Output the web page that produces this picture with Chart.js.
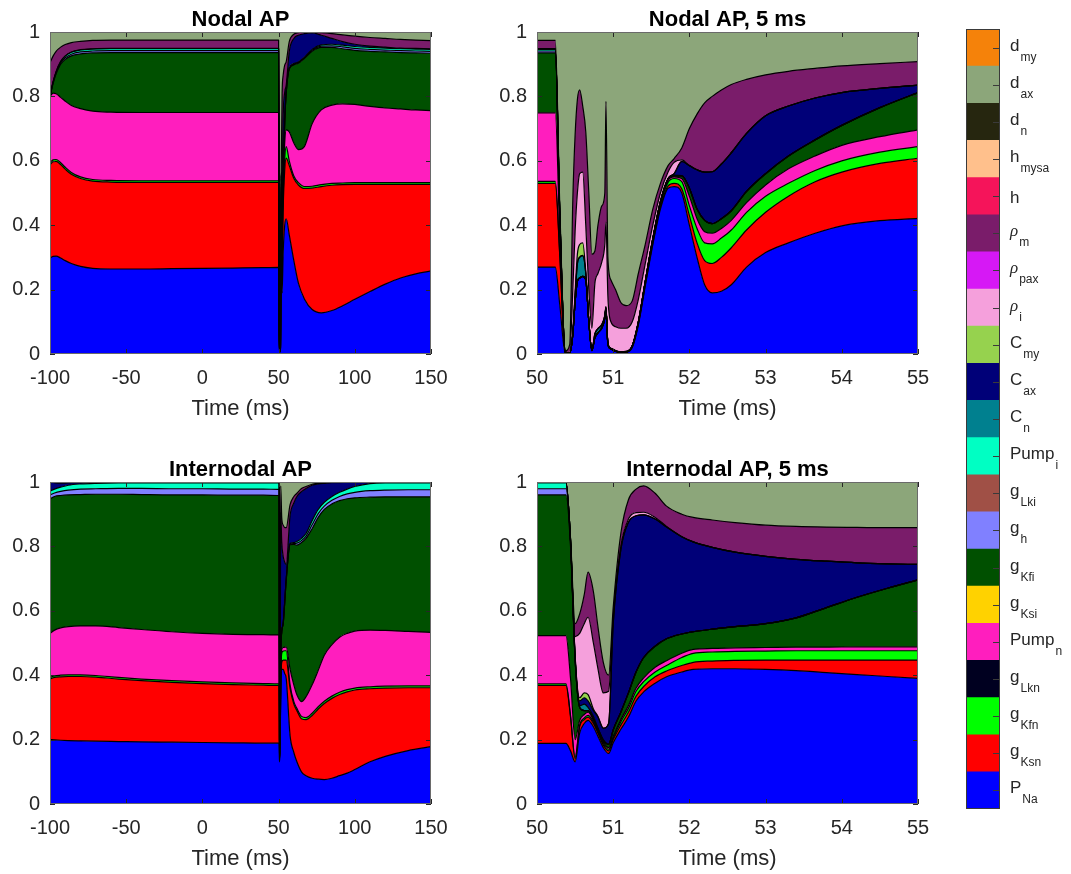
<!DOCTYPE html>
<html>
<head>
<meta charset="utf-8">
<script src="https://cdn.jsdelivr.net/npm/chart.js@4.4.0/dist/chart.umd.min.js"></script>
<style>
  body { margin: 0; background: #fff; width: 1071px; height: 874px; overflow: hidden; position: relative; }
  canvas { position: absolute; }
</style>
</head>
<body>
<canvas id="nodal" width="460" height="424" style="left:0;top:0"></canvas>
<canvas id="nodal5" width="460" height="424" style="left:490px;top:0"></canvas>
<canvas id="inter" width="460" height="424" style="left:0;top:450px"></canvas>
<canvas id="inter5" width="460" height="424" style="left:490px;top:450px"></canvas>
<canvas id="colorbar" width="131" height="874" style="left:940px;top:0"></canvas>
<script>
// legend, top to bottom
const legendKeys = ["d_my", "d_ax", "d_n", "h_mysa", "h", "rho_m", "rho_pax", "rho_i", "C_my", "C_ax", "C_n",
  "Pump_i", "g_Lki", "g_h", "g_Kfi", "g_Ksi", "Pump_n", "g_Lkn", "g_Kfn", "g_Ksn", "P_Na"];
const legendMain = ["d", "d", "d", "h", "h", "ρ", "ρ", "ρ", "C", "C", "C",
  "Pump", "g", "g", "g", "g", "Pump", "g", "g", "g", "P"];
const legendSub = ["my", "ax", "n", "mysa", "", "m", "pax", "i", "my", "ax", "n",
  "i", "Lki", "h", "Kfi", "Ksi", "n", "Lkn", "Kfn", "Ksn", "Na"];
const legendColors = ["#f5820a", "#8ca67a", "#26260f", "#ffc08c", "#f5145a", "#7a1c6a", "#d618f5", "#f5a0dc",
  "#96d24e", "#000078", "#00808f", "#00ffc3", "#a05046", "#8080ff", "#005000", "#ffd200", "#ff1ebe",
  "#000020", "#00ff00", "#ff0000", "#0000ff"];

// Nodal AP (-100..150 ms)
const nodalT = [-100, -98, -96, -93, -90, -86, -80, -72, -60, -40, -20, 0, 20, 40, 50, 50.3, 50.4, 51.2, 51.8, 52.3,
  53, 54, 55, 57, 60, 63, 67, 72, 78, 85, 92, 100, 110, 120, 130, 140, 150];
const nodalPNa = [.298, .303, .304, .298, .290, .281, .272, .266, .264, .264, .265, .266, .267, .268, .269, .200, .004, .010, .520, .190,
  .315, .400, .420, .370, .290, .220, .170, .138, .128, .135, .150, .170, .194, .217, .236, .249, .258];
const nodalGKsn = [.290, .294, .294, .290, .284, .277, .273, .271, .270, .269, .268, .267, .266, .265, .264, .180, .001, .002, .010, .091,
  .135, .170, .188, .215, .255, .305, .344, .377, .392, .389, .376, .357, .333, .310, .291, .278, .269];
const nodalGKfn = [.006, .006, .006, .006, .006, .006, .005, .005, .005, .005, .005, .005, .005, .005, .005, .005, .001, .001, .015, .061,
  .040, .035, .036, .015, .008, .007, .006, .006, .006, .006, .005, .005, .005, .005, .005, .005, .005];
const nodalPumpn = [.206, .207, .204, .203, .205, .208, .212, .212, .212, .212, .212, .212, .212, .212, .212, .085, .001, .001, .005, .033,
  .045, .050, .052, .090, .102, .103, .125, .194, .232, .243, .246, .243, .237, .232, .229, .226, .224];
const nodalGKfi = [0, .030, .062, .103, .130, .154, .170, .181, .185, .186, .186, .186, .186, .186, .186, .090, .001, .001, .003, .030,
  .030, .065, .116, .195, .243, .268, .273, .225, .194, .179, .171, .168, .171, .174, .175, .177, .178];
const nodalGh = [0, .002, .003, .004, .005, .005, .006, .006, .006, .006, .006, .006, .006, .006, .006, .005, 0, 0, .002, .001,
  .001, .001, .001, .002, .002, .002, .002, .003, .004, .005, .006, .006, .006, .006, .006, .006, .006];
const nodalPumpi = [0, .002, .003, .004, .005, .006, .006, .006, .006, .006, .006, .006, .006, .006, .006, .005, 0, 0, .001, .001,
  .001, .001, .001, .002, .002, .002, .002, .003, .004, .005, .005, .006, .006, .006, .006, .006, .006];
const nodalCax = [0, .001, .001, .001, .001, .001, .001, .001, .001, .001, .001, .001, .001, .001, .001, 0, 0, 0, .002, .159,
  .178, .091, .021, .051, .078, .083, .073, .051, .030, .018, .011, .007, .004, .003, .002, .002, .002];
const nodalRhom = [.105, .080, .063, .044, .035, .029, .026, .026, .026, .026, .026, .026, .026, .026, .026, .010, .002, .135, .052, .244,
  .121, .084, .073, .030, .013, .008, .005, .003, .008, .015, .021, .025, .027, .027, .027, .026, .025];
const nodalDax = [.095, .075, .060, .047, .039, .033, .029, .026, .025, .025, .025, .025, .025, .025, .025, .420, .990, .850, .390, .190,
  .134, .103, .092, .030, .007, .002, 0, 0, .002, .005, .009, .013, .017, .020, .023, .025, .027];

// Nodal AP, 5 ms
const nodal5T = [50, 50.24, 50.3, 50.37, 50.43, 50.47, 50.5, 50.53, 50.56, 50.6, 50.64, 50.68, 50.72, 50.76, 50.8, 50.85, 50.89, 50.905, 50.93, 50.97,
  51.03, 51.1, 51.17, 51.25, 51.33, 51.42, 51.52, 51.62, 51.72, 51.8, 51.9, 52, 52.1, 52.2, 52.3, 52.42, 52.55, 52.75, 53, 53.3,
  53.65, 54, 54.5, 55];
const nodal5PNa = [.270, .270, .150, .003, .002, .060, .160, .225, .235, .240, .230, .100, .010, .050, .065, .080, .110, .140, .030, .015,
  .008, .004, .005, .020, .090, .210, .340, .450, .515, .520, .500, .400, .300, .215, .190, .195, .215, .270, .315, .345,
  .375, .398, .414, .421];
const nodal5GKsn = [.260, .260, .150, .001, 0, .001, .001, .001, .001, .001, .001, .001, .001, .001, .001, .001, .001, .001, .001, .001,
  .001, .001, .001, .002, .003, .004, .005, .006, .007, .010, .013, .030, .045, .075, .091, .105, .115, .115, .125, .145,
  .160, .167, .178, .187];
const nodal5GKfn = [.006, .006, .005, 0, 0, 0, 0, 0, 0, 0, 0, 0, 0, 0, 0, 0, 0, 0, 0, 0,
  0, 0, 0, .002, .004, .006, .007, .009, .011, .015, .022, .030, .045, .055, .061, .060, .055, .055, .050, .040,
  .035, .035, .035, .036];
const nodal5Pumpn = [.213, .213, .055, .001, 0, 0, 0, 0, 0, 0, 0, 0, 0, 0, 0, 0, 0, 0, 0, 0,
  0, 0, 0, .001, .002, .003, .004, .005, .006, .005, .010, .030, .030, .035, .033, .030, .030, .030, .035, .045,
  .045, .048, .048, .052];
const nodal5GKfi = [.186, .186, .060, .001, 0, 0, 0, 0, 0, 0, 0, 0, 0, 0, 0, 0, 0, 0, 0, 0,
  0, 0, 0, 0, 0, .001, .002, .003, .004, .003, .007, .025, .030, .035, .030, .030, .030, .035, .035, .040,
  .050, .062, .090, .116];
const nodal5Gh = [.006, .006, .005, 0, 0, 0, 0, 0, 0, 0, 0, 0, 0, 0, 0, 0, 0, 0, 0, 0,
  0, 0, 0, 0, 0, 0, 0, 0, 0, .001, .001, 0, 0, 0, 0, 0, 0, 0, 0, 0,
  0, 0, 0, 0];
const nodal5Pumpi = [.006, .006, .005, 0, 0, 0, 0, 0, 0, 0, 0, 0, 0, 0, 0, 0, 0, 0, 0, 0,
  0, 0, 0, 0, 0, 0, 0, 0, 0, .001, .001, 0, 0, 0, 0, 0, 0, 0, 0, 0,
  0, 0, 0, 0];
const nodal5Cn = [0, 0, 0, 0, 0, .004, .019, .054, .064, .064, .019, .001, .001, .011, .012, .009, .007, .004, .002, .001,
  .001, .001, .001, 0, 0, 0, 0, 0, 0, 0, 0, 0, 0, 0, 0, 0, 0, 0, 0, 0,
  0, 0, 0, 0];
const nodal5Cax = [.001, .001, 0, 0, 0, 0, 0, .001, .001, .001, .001, .001, .001, .001, .001, .001, .001, .001, .001, .001,
  .001, .001, .001, .001, .001, .001, .001, .001, .002, .005, .044, .070, .122, .150, .161, .170, .180, .180, .180, .155,
  .130, .102, .060, .023];
const nodal5Cmy = [0, 0, 0, 0, 0, 0, .010, .029, .039, .039, .004, 0, 0, 0, 0, .001, .001, .001, 0, 0,
  0, 0, 0, 0, 0, 0, 0, 0, 0, 0, 0, 0, 0, 0, 0, 0, 0, 0, 0, 0,
  0, 0, 0, 0];
const nodal5Rhoi = [0, 0, 0, 0, .002, .135, .190, .190, .220, .220, .145, .097, .067, .157, .171, .193, .220, .263, .146, .082,
  .074, .073, .072, .074, .070, .055, .041, .026, .020, .035, .005, 0, 0, 0, 0, 0, 0, 0, 0, 0,
  0, 0, 0, 0];
const nodal5Rhom = [.026, .026, .020, .004, .026, .280, .300, .290, .260, .205, .290, .300, .230, .100, .150, .175, .160, .375, .120, .130,
  .115, .080, .070, .065, .080, .060, .050, .030, .020, .012, .037, .115, .173, .215, .234, .230, .212, .168, .127, .108,
  .092, .083, .077, .073];
const nodal5Dax = [.026, .026, .550, .990, .970, .520, .320, .210, .180, .230, .310, .500, .690, .680, .600, .540, .500, .215, .700, .770,
  .800, .840, .850, .835, .750, .660, .550, .470, .415, .393, .360, .300, .255, .220, .200, .180, .163, .147, .133, .122,
  .113, .105, .098, .092];

// Internodal AP (-100..150 ms)
const interT = [-100, -97, -93, -88, -80, -70, -55, -40, -20, 0, 20, 40, 50, 50.4, 50.5, 50.94, 51.4, 52.05, 53, 54,
  55, 57.5, 60, 62, 65, 68, 72, 76, 80, 85, 90, 95, 100, 110, 120, 135, 150];
const interPNa = [.200, .199, .198, .197, .196, .195, .194, .193, .192, .191, .190, .189, .189, .188, .131, .157, .348, .418, .418, .405,
  .390, .214, .160, .131, .100, .088, .080, .077, .076, .080, .088, .096, .107, .131, .148, .166, .178];
const interGKsn = [.188, .194, .197, .199, .200, .199, .194, .190, .186, .183, .181, .180, .179, .180, .009, .008, .017, .022, .029, .042,
  .057, .146, .150, .159, .165, .174, .195, .218, .236, .248, .252, .252, .247, .227, .212, .195, .183];
const interGKfn = [.005, .005, .005, .005, .005, .005, .005, .005, .005, .005, .005, .005, .005, .005, .005, .005, .015, .028, .028, .029,
  .029, .010, .008, .007, .007, .006, .007, .007, .007, .007, .007, .007, .006, .006, .006, .006, .006];
const interPumpn = [.137, .142, .147, .150, .152, .154, .155, .154, .152, .151, .151, .152, .152, .150, .055, .005, .012, .012, .011, .011,
  .012, .050, .052, .042, .046, .065, .088, .113, .143, .160, .171, .175, .177, .176, .173, .169, .166];
const interGKfi = [.418, .415, .411, .409, .408, .409, .414, .419, .425, .430, .432, .433, .433, .435, .250, .010, .063, .055, .074, .139,
  .208, .385, .436, .465, .494, .492, .485, .475, .453, .437, .424, .418, .414, .413, .415, .418, .421];
const interGh = [.012, .011, .013, .015, .017, .017, .018, .019, .019, .019, .019, .019, .019, .019, .001, 0, 0, 0, 0, 0,
  .001, .002, .003, .006, .006, .007, .012, .012, .010, .011, .013, .015, .017, .020, .021, .022, .022];
const interPumpi = [.012, .012, .013, .015, .016, .017, .017, .017, .018, .018, .019, .019, .020, .020, .001, 0, 0, 0, 0, 0,
  .001, .002, .003, .005, .007, .008, .013, .013, .012, .012, .013, .015, .018, .022, .022, .021, .021];
const interCax = [.028, .020, .013, .008, .005, .003, .002, .002, .002, .002, .002, .002, .002, .002, .008, .065, .451, .279, .209, .125,
  .046, .086, .123, .140, .145, .140, .110, .079, .059, .043, .030, .021, .013, .004, .002, .002, .002];
const interRhom = [0, 0, 0, 0, 0, 0, 0, 0, 0, 0, 0, 0, 0, 0, .100, .150, .082, .076, .097, .108,
  .114, .034, .020, .010, .010, .006, .003, .002, .002, .001, .001, .001, .001, .001, .001, .001, .001];
const interDax = [0, .002, .003, .002, .001, .001, .001, .001, .001, .001, .001, .001, .001, .001, .440, .600, .012, .110, .134, .141,
  .142, .071, .045, .035, .020, .014, .007, .004, .002, .001, .001, 0, 0, 0, 0, 0, 0];

// Internodal AP, 5 ms
const inter5T = [50, 50.38, 50.44, 50.5, 50.56, 50.62, 50.67, 50.74, 50.8, 50.87, 50.94, 51, 51.1, 51.2, 51.3, 51.4, 51.55, 51.7, 51.9, 52.05,
  52.3, 52.6, 53, 53.4, 53.8, 54.2, 54.6, 55];
const inter5PNa = [.188, .188, .165, .131, .220, .250, .260, .240, .210, .175, .157, .190, .232, .270, .320, .348, .375, .395, .410, .418,
  .420, .420, .418, .414, .408, .402, .396, .390];
const inter5GKsn = [.180, .180, .105, .009, .020, .012, .010, .010, .010, .008, .008, .010, .013, .015, .015, .017, .020, .018, .020, .022,
  .024, .026, .029, .033, .039, .045, .051, .057];
const inter5GKfn = [.005, .005, .005, .005, .005, .005, .005, .005, .004, .005, .005, .005, .010, .012, .015, .015, .015, .017, .025, .028,
  .028, .028, .028, .029, .029, .029, .029, .029];
const inter5Pumpn = [.150, .150, .115, .055, .015, .011, .010, .005, .004, .004, .005, .005, .007, .009, .010, .012, .015, .015, .013, .012,
  .011, .011, .011, .011, .011, .012, .012, .012];
const inter5GKfi = [.437, .437, .410, .250, .040, .012, .005, .005, .005, .006, .010, .020, .023, .039, .050, .063, .065, .068, .060, .055,
  .060, .066, .074, .091, .123, .154, .182, .208];
const inter5Gh = [.019, .019, .010, .001, 0, 0, 0, 0, 0, 0, 0, 0, 0, 0, 0, 0, 0, 0, 0, 0,
  0, 0, 0, 0, 0, 0, 0, 0];
const inter5Pumpi = [.019, .019, .010, .001, 0, 0, 0, 0, 0, 0, 0, 0, 0, 0, 0, 0, 0, 0, 0, 0,
  0, 0, 0, 0, 0, 0, 0, 0];
const inter5Cn = [0, 0, 0, 0, .005, .020, .010, .007, .003, .002, .001, 0, 0, 0, 0, 0, 0, 0, 0, 0,
  0, 0, 0, 0, 0, 0, 0, 0];
const inter5Cax = [.001, .001, 0, .008, .015, .020, .020, .018, .034, .035, .064, .330, .505, .530, .485, .443, .395, .347, .302, .279,
  .254, .231, .209, .182, .144, .107, .076, .048];
const inter5Cmy = [0, 0, 0, 0, .010, .015, .020, .005, .002, .001, 0, 0, 0, 0, 0, 0, 0, 0, 0, 0,
  0, 0, 0, 0, 0, 0, 0, 0];
const inter5Rhoi = [0, 0, 0, .060, .200, .215, .240, .205, .148, .109, .100, .020, .010, .010, .010, .008, .005, .002, 0, 0,
  0, 0, 0, 0, 0, 0, 0, 0];
const inter5Rhom = [0, 0, .005, .040, .060, .090, .140, .160, .130, .095, .050, .030, .040, .060, .073, .082, .075, .063, .070, .076,
  .085, .092, .097, .102, .106, .110, .112, .114];
const inter5Dax = [.001, .001, .175, .440, .410, .350, .280, .340, .450, .560, .600, .390, .160, .055, .022, .012, .035, .075, .100, .110,
  .118, .126, .134, .138, .140, .141, .142, .142];

const fontFamily = "'Liberation Sans', Arial, Helvetica, sans-serif";
const textColor = "#262626";

function colorOf(key) {
  return legendColors[legendKeys.indexOf(key)];
}

function panelFrame(title) {
  return {
    id: "panelFrame",
    afterDatasetsDraw(chart) {
      const { ctx, chartArea: { left, right, top, bottom }, scales: { x, y } } = chart;
      ctx.save();
      ctx.strokeStyle = textColor;
      ctx.lineWidth = 1;
      ctx.beginPath();
      x.ticks.forEach((tick) => {
        const px = Math.round(x.getPixelForValue(tick.value)) + 0.5;
        ctx.moveTo(px, bottom);
        ctx.lineTo(px, bottom - 5);
        ctx.moveTo(px, top);
        ctx.lineTo(px, top + 5);
      });
      y.ticks.forEach((tick) => {
        const py = Math.round(y.getPixelForValue(tick.value)) + 0.5;
        ctx.moveTo(left, py);
        ctx.lineTo(left + 5, py);
        ctx.moveTo(right, py);
        ctx.lineTo(right - 5, py);
      });
      ctx.stroke();
      ctx.strokeStyle = "#6a6a6a";
      ctx.strokeRect(left + 0.5, top + 0.5, right - left - 1, bottom - top - 1);
      ctx.fillStyle = "#000";
      ctx.font = `bold 22px ${fontFamily}`;
      ctx.textAlign = "center";
      ctx.textBaseline = "alphabetic";
      ctx.fillText(title, (left + right) / 2, top - 6.5);
      ctx.restore();
    },
  };
}

function makePanel(id, title, time, layers, xMin, xMax, xStep, yWidth, rightPad) {
  return new Chart(document.getElementById(id), {
    type: "line",
    data: {
      datasets: layers.map(([key, values], i) => ({
        label: key,
        data: time.map((t, k) => ({ x: t, y: values[k] })),
        backgroundColor: colorOf(key),
        borderColor: "#000",
        borderWidth: key === "d_ax" ? 0 : 1.2,
        borderJoinStyle: "round",
        fill: i === 0 ? "origin" : "-1",
        pointRadius: 0,
        cubicInterpolationMode: "monotone",
      })),
    },
    options: {
      responsive: false,
      animation: false,
      events: [],
      layout: { padding: { left: 0, right: rightPad, top: 32, bottom: 0 } },
      scales: {
        x: {
          type: "linear",
          min: xMin,
          max: xMax,
          ticks: { stepSize: xStep, padding: 12, color: textColor, font: { family: fontFamily, size: 20 } },
          grid: { display: false, drawTicks: false },
          border: { display: false },
          title: {
            display: true,
            text: "Time (ms)",
            color: textColor,
            font: { family: fontFamily, size: 22 },
            padding: { top: 0, bottom: 2 },
          },
          afterFit: (scale) => { scale.height = 70; },
        },
        y: {
          stacked: true,
          min: 0,
          max: 1,
          ticks: {
            stepSize: 0.2,
            padding: 10,
            color: textColor,
            font: { family: fontFamily, size: 20 },
            callback: (value) => String(Number(value.toFixed(1))),
          },
          grid: { display: false, drawTicks: false },
          border: { display: false },
          afterFit: (scale) => { scale.width = yWidth; },
        },
      },
      plugins: {
        legend: { display: false },
        tooltip: { enabled: false },
        filler: { drawTime: "beforeDatasetsDraw" },
      },
    },
    plugins: [panelFrame(title)],
  });
}

makePanel("nodal", "Nodal AP", nodalT, [
  ["P_Na", nodalPNa], ["g_Ksn", nodalGKsn], ["g_Kfn", nodalGKfn], ["Pump_n", nodalPumpn], ["g_Kfi", nodalGKfi],
  ["g_h", nodalGh], ["Pump_i", nodalPumpi], ["C_ax", nodalCax], ["rho_m", nodalRhom], ["d_ax", nodalDax],
], -100, 150, 50, 50, 29);

makePanel("nodal5", "Nodal AP, 5 ms", nodal5T, [
  ["P_Na", nodal5PNa], ["g_Ksn", nodal5GKsn], ["g_Kfn", nodal5GKfn], ["Pump_n", nodal5Pumpn], ["g_Kfi", nodal5GKfi],
  ["g_h", nodal5Gh], ["Pump_i", nodal5Pumpi], ["C_n", nodal5Cn], ["C_ax", nodal5Cax], ["C_my", nodal5Cmy],
  ["rho_i", nodal5Rhoi], ["rho_m", nodal5Rhom], ["d_ax", nodal5Dax],
], 50, 55, 1, 47, 32);

makePanel("inter", "Internodal AP", interT, [
  ["P_Na", interPNa], ["g_Ksn", interGKsn], ["g_Kfn", interGKfn], ["Pump_n", interPumpn], ["g_Kfi", interGKfi],
  ["g_h", interGh], ["Pump_i", interPumpi], ["C_ax", interCax], ["rho_m", interRhom], ["d_ax", interDax],
], -100, 150, 50, 50, 29);

makePanel("inter5", "Internodal AP, 5 ms", inter5T, [
  ["P_Na", inter5PNa], ["g_Ksn", inter5GKsn], ["g_Kfn", inter5GKfn], ["Pump_n", inter5Pumpn], ["g_Kfi", inter5GKfi],
  ["g_h", inter5Gh], ["Pump_i", inter5Pumpi], ["C_n", inter5Cn], ["C_ax", inter5Cax], ["C_my", inter5Cmy],
  ["rho_i", inter5Rhoi], ["rho_m", inter5Rhom], ["d_ax", inter5Dax],
], 50, 55, 1, 47, 32);

// colour bar with subscripted labels
const colorbarLabels = {
  id: "colorbarLabels",
  afterDraw(chart) {
    const { ctx, chartArea: { left, right, top, bottom }, scales: { y } } = chart;
    ctx.save();
    ctx.strokeStyle = "#3a3a3a";
    ctx.lineWidth = 1;
    ctx.strokeRect(left + 0.5, top + 0.5, right - left - 1, bottom - top - 1);
    ctx.fillStyle = textColor;
    ctx.textAlign = "left";
    ctx.textBaseline = "alphabetic";
    legendKeys.forEach((key, i) => {
      const cy = y.getPixelForValue(legendKeys.length - i - 0.5);
      ctx.beginPath();
      ctx.moveTo(right - 7, Math.round(cy) + 0.5);
      ctx.lineTo(right, Math.round(cy) + 0.5);
      ctx.stroke();
      const main = legendMain[i];
      const sub = legendSub[i];
      const x0 = right + 10;
      ctx.font = main === "ρ" ? `italic 17px 'Liberation Serif', serif` : `17px ${fontFamily}`;
      ctx.fillText(main, x0, sub ? cy + 3 : cy + 7);
      if (sub) {
        const w = ctx.measureText(main).width;
        ctx.font = `12px ${fontFamily}`;
        ctx.fillText(sub, x0 + w + 1, cy + 13);
      }
    });
    ctx.restore();
  },
};

new Chart(document.getElementById("colorbar"), {
  type: "bar",
  data: {
    labels: [""],
    datasets: legendKeys.map((key, i) => ({
      label: key,
      data: [1],
      backgroundColor: legendColors[i],
      borderWidth: 0,
      barPercentage: 1,
      categoryPercentage: 1,
    })).reverse(),
  },
  options: {
    responsive: false,
    animation: false,
    events: [],
    layout: { padding: { left: 26, right: 71, top: 29, bottom: 65 } },
    scales: {
      x: { stacked: true, display: false },
      y: { stacked: true, display: false, min: 0, max: legendKeys.length },
    },
    plugins: { legend: { display: false }, tooltip: { enabled: false } },
  },
  plugins: [colorbarLabels],
});
</script>
</body>
</html>
